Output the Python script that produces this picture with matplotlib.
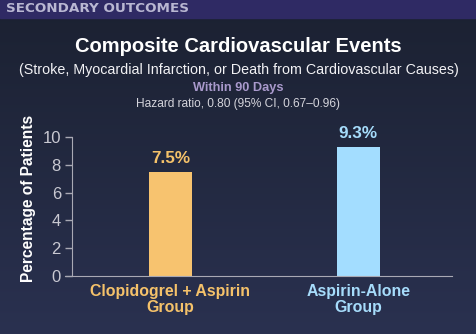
import numpy as np
import matplotlib
matplotlib.use("Agg")
import matplotlib.pyplot as plt
from matplotlib.colors import LinearSegmentedColormap

plt.rcParams['font.family'] = ['Liberation Sans', 'DejaVu Sans']

# Data
groups = ["Clopidogrel + Aspirin\nGroup", "Aspirin-Alone\nGroup"]
event_pct = [7.5, 9.3]
value_labels = ["7.5%", "9.3%"]
yticks = [0, 2, 4, 6, 8, 10]

bar_colors = ["#f7c36f", "#a3ddff"]
text_colors = ["#f5c26a", "#a6dcfb"]

W, H = 477, 334
fig = plt.figure(figsize=(W / 100, H / 100), dpi=100)

# Background gradient (dark navy, lighter toward the bottom)
bg = fig.add_axes([0, 0, 1, 1], zorder=-10)
bg.set_axis_off()
cmap = LinearSegmentedColormap.from_list("bg", ["#1b2131", "#2a3150"])
grad = np.linspace(0, 1, 256).reshape(-1, 1)
bg.imshow(grad, aspect="auto", cmap=cmap, extent=[0, 1, 0, 1], origin="upper")
# Header band
bg.add_patch(plt.Rectangle((0, 1 - 18 / H), 1, 18 / H, color="#2f2a64",
                           transform=bg.transAxes))
bg.set_xlim(0, 1)
bg.set_ylim(0, 1)

fig.text(6 / W, 1 - 8 / H, "SECONDARY OUTCOMES", color="#b9b7d2",
         fontsize=9.7, fontweight="bold", ha="left", va="center",
         family="DejaVu Sans")

fig.text(0.5, 1 - 47 / H, "Composite Cardiovascular Events", color="white",
         fontsize=14.5, fontweight="bold", ha="center", va="center")
fig.text(0.5, 1 - 70 / H,
         "(Stroke, Myocardial Infarction, or Death from Cardiovascular Causes)",
         color="#f2f2f5", fontsize=10.3, ha="center", va="center")
fig.text(0.5, 1 - 88 / H, "Within 90 Days", color="#a999cc",
         fontsize=9.2, fontweight="bold", ha="center", va="center")
fig.text(0.5, 1 - 104 / H, "Hazard ratio, 0.80 (95% CI, 0.67\u20130.96)",
         color="#d5d5dc", fontsize=8.6, ha="center", va="center")

ax = fig.add_axes([72 / W, 1 - 276 / H, 380 / W, 139 / H])
ax.set_facecolor("none")
x = np.arange(len(groups))
ax.bar(x, event_pct, width=0.229, color=bar_colors, zorder=2)
for xi, v, lab, c in zip(x, event_pct, value_labels, text_colors):
    ax.annotate(lab, (xi, v), xytext=(0, 4), textcoords="offset points",
                ha="center", va="bottom", color=c, fontsize=12.3,
                fontweight="bold")

ax.set_xlim(-0.524, 1.50)
ax.set_ylim(0, 10)
ax.set_yticks(yticks)
ax.set_yticklabels([str(t) for t in yticks], color="#c9c9d2", fontsize=12)
ax.set_xticks(x)
ax.set_xticklabels(groups, fontsize=11.4, fontweight="bold", linespacing=1.05)
for lbl, c in zip(ax.get_xticklabels(), text_colors):
    lbl.set_color(c)
ax.tick_params(axis="x", length=0, pad=6)
ax.tick_params(axis="y", length=5, width=1, color="#a9a9b4", pad=3)
for s in ["top", "right"]:
    ax.spines[s].set_visible(False)
ax.spines["left"].set_color("#a9a9b4")
ax.spines["bottom"].set_color("#a9a9b4")
ax.spines["bottom"].set_bounds(-0.56, 1.50)
ax.set_ylabel("Percentage of Patients", color="white", fontsize=11.2,
              fontweight="bold", va="center")
ax.yaxis.set_label_coords(-0.115, 0.56)

fig.savefig("out.png", dpi=100)
